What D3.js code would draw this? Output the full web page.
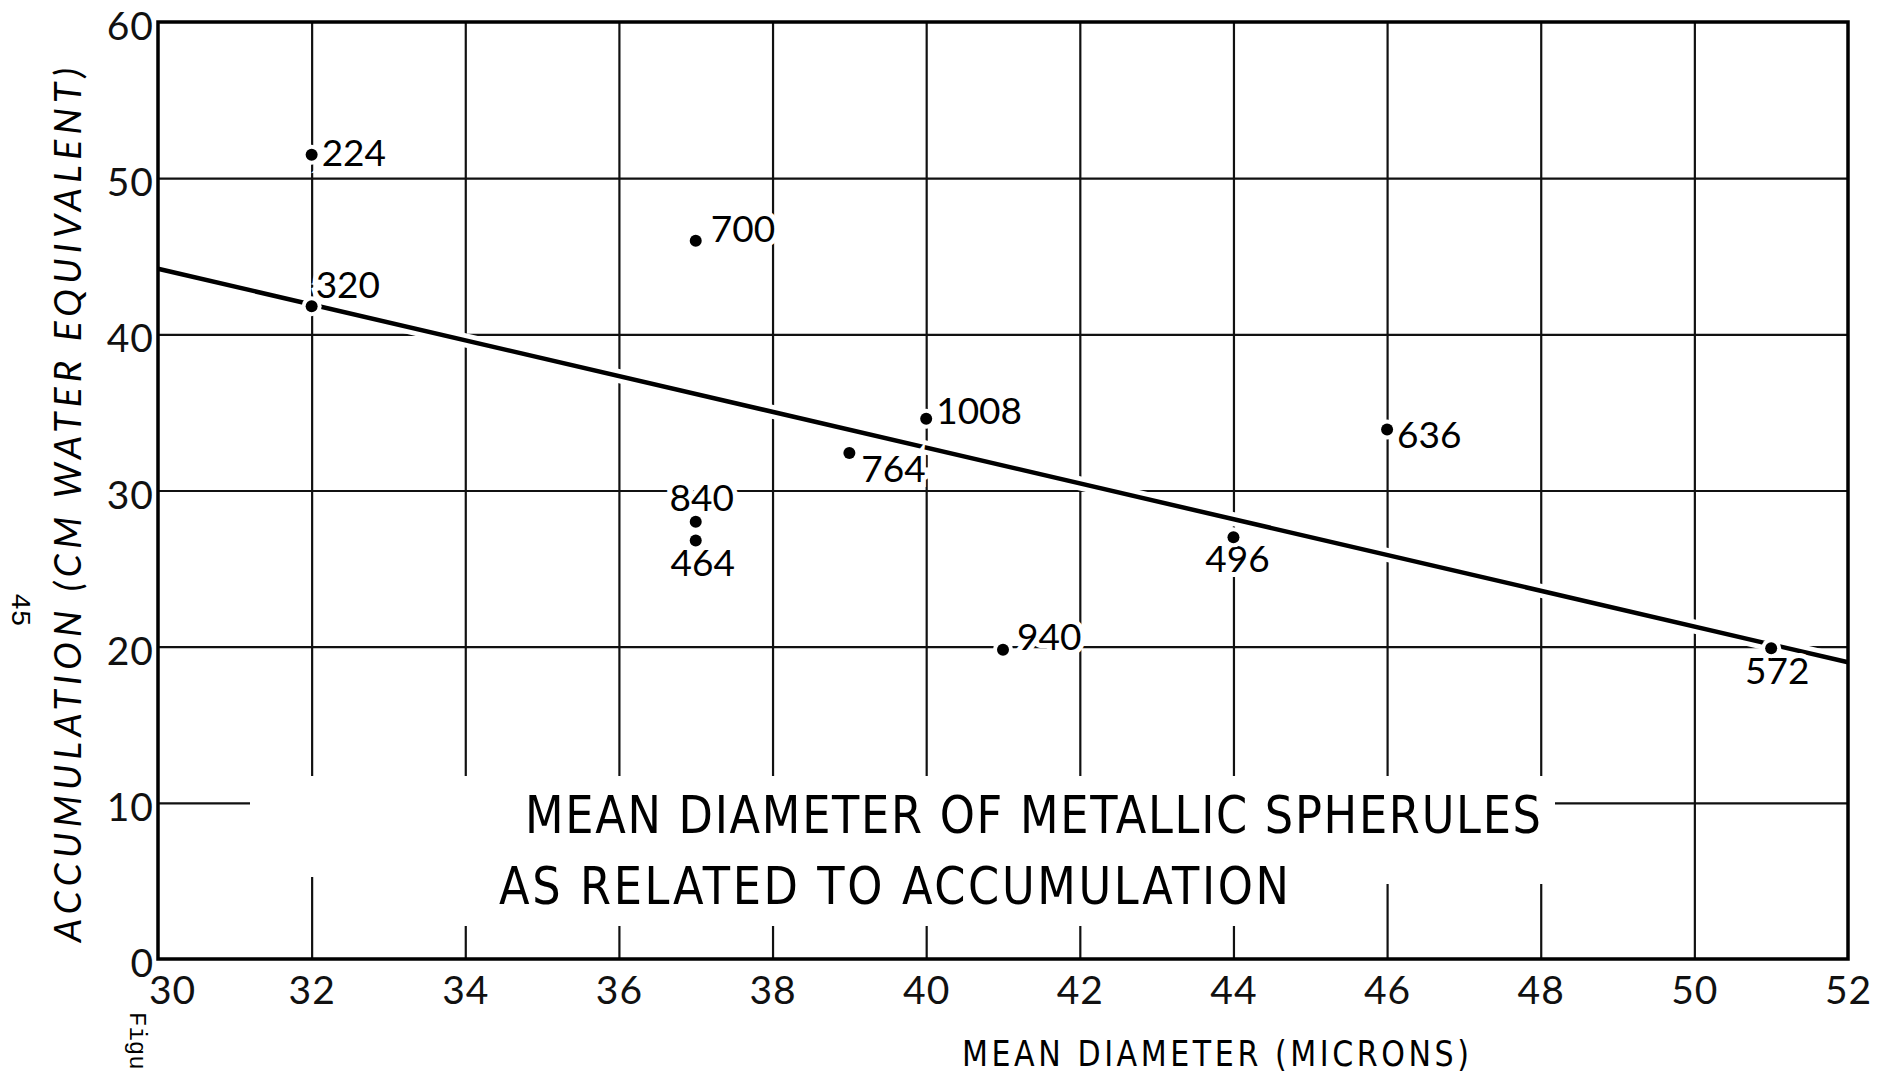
<!DOCTYPE html>
<html>
<head>
<meta charset="utf-8">
<script src="https://cdn.jsdelivr.net/npm/d3@7"></script>
<style>
  body { margin: 0; background: #fff; }
  svg { display: block; }
  .tick text { font-family: Lato, "Open Sans", sans-serif; fill: #111; }
  .cond { font-family: "DejaVu Sans", sans-serif; }
</style>
</head>
<body>
<div id="chart-wrapper"></div>
<script>
// Mean diameter (microns) and accumulation (cm water equivalent) per sample
const diameters = [32, 32, 37, 40, 39, 37, 37, 41, 44, 46, 51];
const accumulation = [51.5, 41.8, 46.0, 34.6, 32.4, 28.0, 26.8, 19.8, 27.0, 33.9, 19.9];
const sampleLabels = ["224", "320", "700", "1008", "764", "840", "464", "940", "496", "636", "572"];

// Fitted line end points
const fitX = [30, 52];
const fitY = [44.2, 19.0];

const xTicks = [30, 32, 34, 36, 38, 40, 42, 44, 46, 48, 50, 52];
const yTicks = [0, 10, 20, 30, 40, 50, 60];

// Where each sample label sits relative to its dot
const labelPlacement = [
  { dx: 10, dy: 11, anchor: "start" },
  { dx: 4, dy: -8, anchor: "start" },
  { dx: 15, dy: 1, anchor: "start" },
  { dx: 10, dy: 5, anchor: "start" },
  { dx: 12, dy: 29, anchor: "start" },
  { dx: 6, dy: -11, anchor: "middle" },
  { dx: 7, dy: 36, anchor: "middle" },
  { dx: 14, dy: 0, anchor: "start" },
  { dx: 4, dy: 35, anchor: "middle" },
  { dx: 10, dy: 18, anchor: "start" },
  { dx: 6, dy: 36, anchor: "middle" }
];

const initChart = () => {
  const fullWidth = 1885, fullHeight = 1075;
  const margin = { top: 22, right: 37, bottom: 116, left: 158 },
    width = fullWidth - margin.left - margin.right,
    height = fullHeight - margin.top - margin.bottom;

  const xScale = d3.scaleLinear().domain([30, 52]).range([0, width]);
  const yScale = d3.scaleLinear().domain([0, 60]).range([height, 0]);

  const svg = d3.select("#chart-wrapper").append("svg")
    .attr("width", fullWidth)
    .attr("height", fullHeight);

  svg.append("rect").attr("width", fullWidth).attr("height", fullHeight).attr("fill", "#fff");

  const chart = svg.append("g")
    .attr("transform", `translate(${margin.left},${margin.top})`);

  // grid
  const xGrid = chart.append("g")
    .attr("transform", `translate(0,${height})`)
    .call(d3.axisBottom(xScale).tickValues(xTicks.slice(1, -1)).tickSize(-height).tickFormat(""));
  const yGrid = chart.append("g")
    .call(d3.axisLeft(yScale).tickValues(yTicks.slice(1, -1)).tickSize(-width).tickFormat(""));
  [xGrid, yGrid].forEach(g => {
    g.select(".domain").remove();
    g.selectAll("line").attr("stroke", "#111").attr("stroke-width", 2.2);
  });

  // white block behind the title (page coordinates)
  const maskPts = [[250, 776], [1555, 776], [1555, 884], [1300, 884], [1300, 926],
    [390, 926], [390, 877], [250, 877]];
  svg.append("polygon")
    .attr("points", maskPts.map(p => p.join(",")).join(" "))
    .attr("fill", "#fff");

  // fitted line
  const line = d3.line().x(d => xScale(d[0])).y(d => yScale(d[1]));
  const fitPts = d3.zip(fitX, fitY);
  chart.append("path").datum(fitPts).attr("d", line)
    .attr("stroke", "#fff").attr("stroke-width", 14).attr("fill", "none");
  chart.append("path").datum(fitPts).attr("d", line)
    .attr("stroke", "#000").attr("stroke-width", 4.5).attr("fill", "none");

  const points = d3.range(diameters.length).map(i => ({
    x: diameters[i], y: accumulation[i], label: sampleLabels[i], p: labelPlacement[i]
  }));

  // labels with white halo so grid lines break around them
  chart.selectAll(".lbl").data(points).enter().append("text")
    .attr("class", "lbl")
    .attr("x", d => xScale(d.x) + d.p.dx)
    .attr("y", d => yScale(d.y) + d.p.dy)
    .attr("text-anchor", d => d.p.anchor)
    .attr("font-family", "Lato, 'Open Sans', sans-serif")
    .attr("font-size", 37)
    .attr("fill", "#000")
    .attr("stroke", "#fff")
    .attr("stroke-width", 10)
    .attr("paint-order", "stroke")
    .text(d => d.label);

  chart.selectAll(".dot-halo").data(points).enter().append("circle")
    .attr("cx", d => xScale(d.x)).attr("cy", d => yScale(d.y))
    .attr("r", 10).attr("fill", "#fff");
  chart.selectAll(".dot").data(points).enter().append("circle")
    .attr("cx", d => xScale(d.x)).attr("cy", d => yScale(d.y))
    .attr("r", 6).attr("fill", "#000");

  // frame
  chart.append("rect").attr("width", width).attr("height", height)
    .attr("fill", "none").attr("stroke", "#000").attr("stroke-width", 3.5);

  // tick labels
  const xAxis = chart.append("g")
    .attr("transform", `translate(0,${height})`)
    .call(d3.axisBottom(xScale).tickValues(xTicks).tickSize(0).tickPadding(12));
  const yAxis = chart.append("g")
    .call(d3.axisLeft(yScale).tickValues(yTicks).tickSize(0).tickPadding(4));
  [xAxis, yAxis].forEach(g => {
    g.select(".domain").remove();
    g.selectAll("text").attr("font-size", 39).attr("letter-spacing", 1);
  });
  xAxis.selectAll("text").attr("dy", "0.85em");
  xAxis.selectAll(".tick").filter(d => d === 30).select("text").attr("dx", 14);
  yAxis.selectAll("text").attr("dy", "0.45em");

  // axis titles
  svg.append("text")
    .attr("transform", "translate(81,942) rotate(-90)")
    .attr("font-family", "Lato, 'Open Sans', sans-serif")
    .attr("font-style", "italic")
    .attr("font-size", 37)
    .attr("textLength", 874)
    .attr("lengthAdjust", "spacing")
    .text("ACCUMULATION (CM WATER EQUIVALENT)");

  // condensed lettering: squeeze horizontally, then spread to the measured width
  const squeeze = 0.86;
  const condensed = (x, y, size, w, t) => svg.append("text")
    .attr("class", "cond")
    .attr("transform", `translate(${x},${y}) scale(${squeeze},1)`)
    .attr("font-size", size)
    .attr("textLength", w / squeeze)
    .attr("lengthAdjust", "spacing")
    .text(t);

  condensed(962, 1066, 35, 507, "MEAN DIAMETER (MICRONS)");

  // chart title inside the plot
  condensed(525, 833, 52, 1016, "MEAN DIAMETER OF METALLIC SPHERULES");
  condensed(499, 904, 52, 790, "AS RELATED TO ACCUMULATION");

  // page marks from the scan
  svg.append("text")
    .attr("transform", "translate(12,593) rotate(90)")
    .attr("font-family", "'Liberation Mono', 'DejaVu Sans Mono', monospace")
    .attr("font-size", 28)
    .text("45");
  svg.append("text")
    .attr("transform", "translate(130,1012) rotate(90)")
    .attr("font-family", "'Liberation Mono', 'DejaVu Sans Mono', monospace")
    .attr("font-size", 24)
    .text("Figu");
};

window.onload = () => {
  initChart();
};
</script>
</body>
</html>
